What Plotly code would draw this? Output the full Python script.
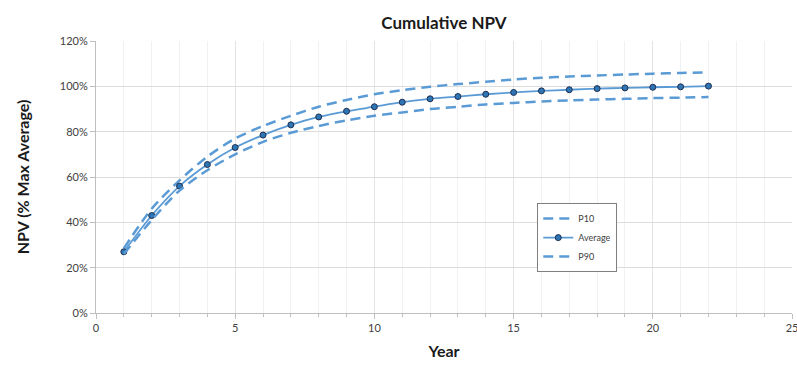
import plotly.graph_objects as go

years = list(range(1, 23))
p10 = [28.5, 46, 58.5, 69, 77, 82.5, 87, 91, 94, 96.5, 98.3, 99.8, 101, 102, 103, 103.8, 104.3, 104.8, 105.2, 105.6, 105.9, 106.2]
avg = [27, 43, 56, 65.5, 73, 78.5, 83, 86.5, 89, 91, 93, 94.5, 95.5, 96.5, 97.3, 98, 98.5, 99, 99.3, 99.6, 99.8, 100.1]
p90 = [26, 41, 54, 63, 70, 75.5, 79.5, 82.5, 85, 87, 88.5, 90, 91, 92, 92.7, 93.3, 93.8, 94.2, 94.5, 94.8, 95.0, 95.3]

line_col = "#5B9BD5"
font = "Lato, 'Open Sans', sans-serif"

fig = go.Figure()
fig.add_trace(go.Scatter(x=years, y=[v / 100 for v in p10], name="P10", mode="lines",
                         line=dict(color=line_col, width=2.5, dash="10px,6px", shape="spline", smoothing=0.8)))
fig.add_trace(go.Scatter(x=years, y=[v / 100 for v in avg], name="Average", mode="lines+markers",
                         line=dict(color=line_col, width=1.8, shape="spline", smoothing=0.8),
                         marker=dict(symbol="circle", size=6, color="#2E75B6",
                                     line=dict(color="#1F2F4F", width=1))))
fig.add_trace(go.Scatter(x=years, y=[v / 100 for v in p90], name="P90", mode="lines",
                         line=dict(color=line_col, width=2.5, dash="10px,6px", shape="spline", smoothing=0.8)))

fig.update_layout(
    width=797, height=370,
    margin=dict(l=96, r=5, t=41, b=57),
    paper_bgcolor="white", plot_bgcolor="white",
    font=dict(family=font, color="#404040"),
    title=dict(text="<b>Cumulative NPV</b>", x=0.5, xref="paper", xanchor="center",
               y=0.955, yref="container", font=dict(size=17, color="#1a1a1a")),
    showlegend=True,
    legend=dict(x=0.634, y=0.404, xanchor="left", yanchor="top",
                bgcolor="white", bordercolor="#7f7f7f", borderwidth=1,
                font=dict(size=9, color="#404040"), tracegroupgap=0,
                itemwidth=30),
    xaxis=dict(range=[0, 25], dtick=5, tick0=0, automargin=False,
               showgrid=True, gridcolor="#e4e4e4", gridwidth=1,
               minor=dict(dtick=1, showgrid=True, gridcolor="#eef2f5", ticks="outside",
                          ticklen=3, tickcolor="#bfbfbf"),
               ticks="outside", ticklen=5, tickcolor="#bfbfbf",
               ticklabeloverflow="allow",
               showline=True, linecolor="#bfbfbf", linewidth=1,
               zeroline=False,
               tickfont=dict(size=11, color="#404040"),
               title=dict(text="<b>Year</b>", font=dict(size=16, color="#1a1a1a"), standoff=12)),
    yaxis=dict(range=[0, 1.2], dtick=0.2, tickformat=".0%", automargin=False,
               showgrid=True, gridcolor="#dcdcdc", gridwidth=1,
               ticks="outside", ticklen=5, tickcolor="#bfbfbf",
               showline=True, linecolor="#bfbfbf", linewidth=1,
               zeroline=False,
               tickfont=dict(size=11, color="#404040"),
               title=dict(text="<b>NPV (% Max Average)</b>", font=dict(size=16, color="#1a1a1a"), standoff=26)),
)

fig.write_html("out.html")
